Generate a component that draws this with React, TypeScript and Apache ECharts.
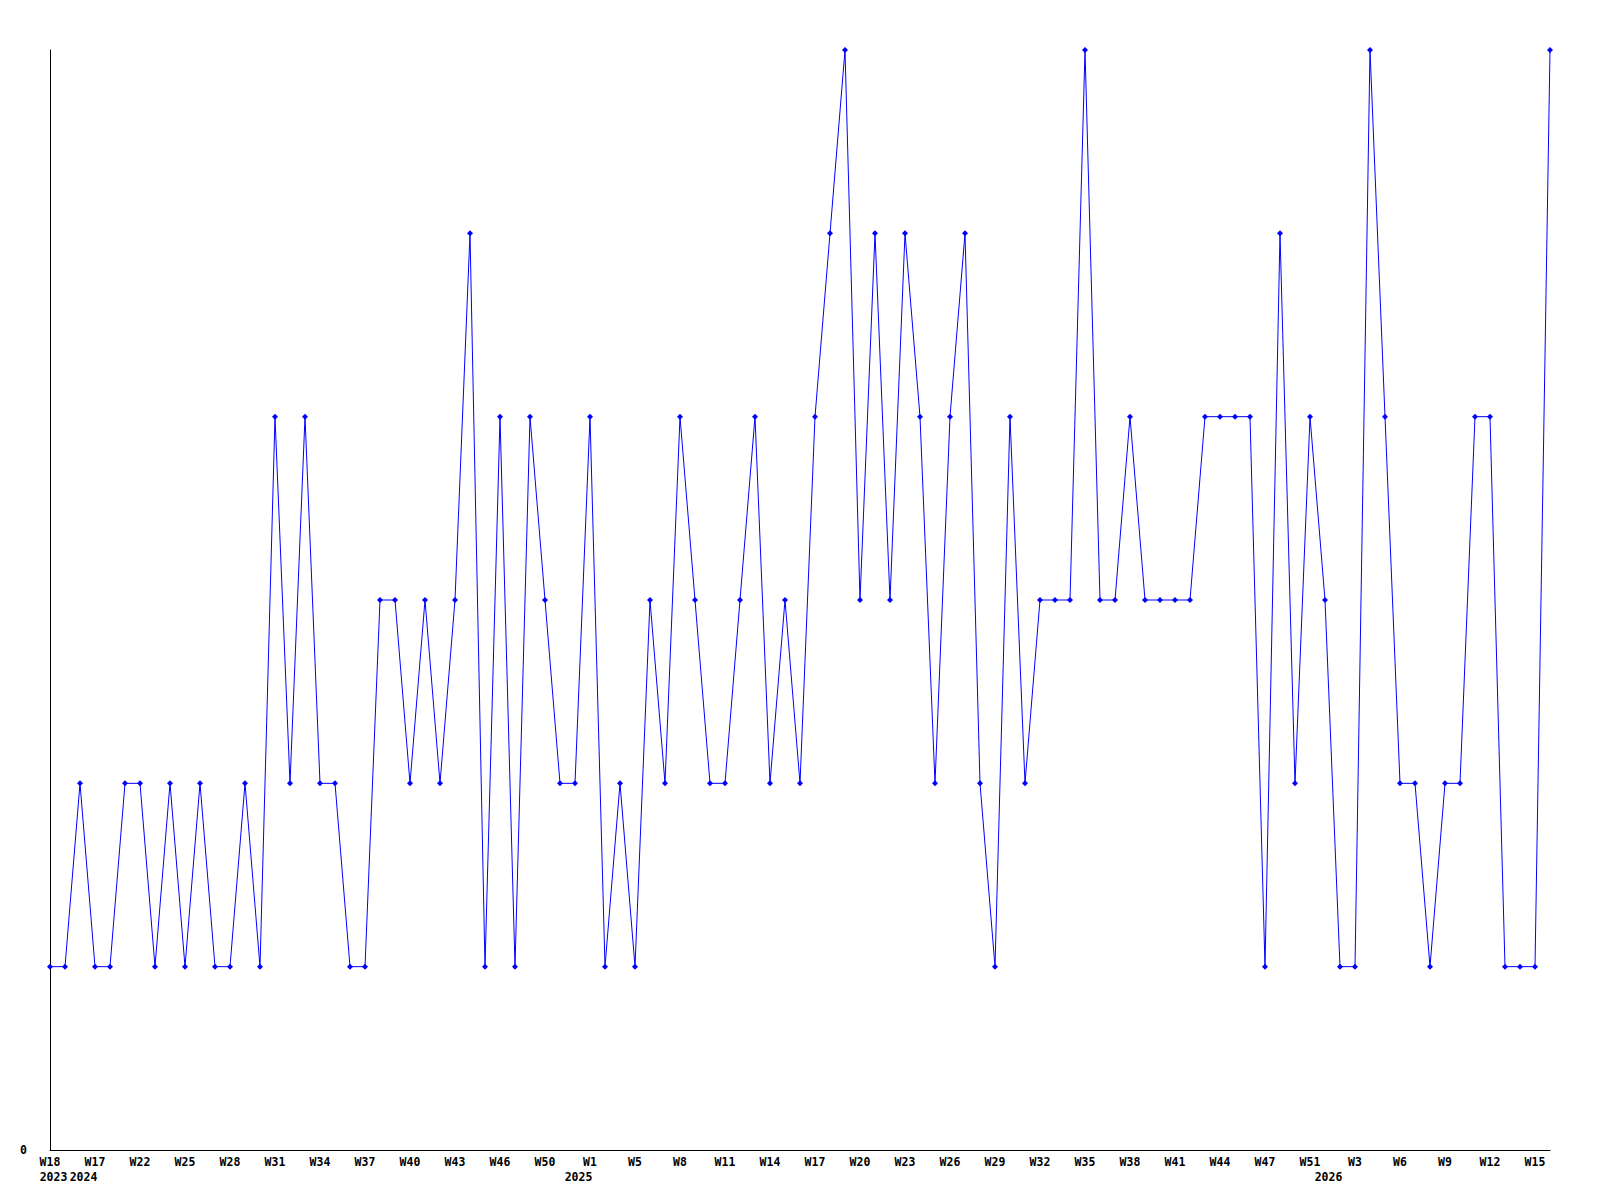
import React, { useEffect, useRef } from "react";
import * as echarts from "echarts";

const weeks = [
  "W18", "W20", "W16", "W17", "W19", "W21", "W22", "W23", "W24", "W25",
  "W26", "W27", "W28", "W29", "W30", "W31", "W32", "W33", "W34", "W35",
  "W36", "W37", "W38", "W39", "W40", "W41", "W42", "W43", "W44", "W45",
  "W46", "W47", "W49", "W50", "W51", "W52", "W1", "W2", "W3", "W5",
  "W6", "W7", "W8", "W9", "W10", "W11", "W12", "W13", "W14", "W15",
  "W16", "W17", "W18", "W19", "W20", "W21", "W22", "W23", "W24", "W25",
  "W26", "W27", "W28", "W29", "W30", "W31", "W32", "W33", "W34", "W35",
  "W36", "W37", "W38", "W39", "W40", "W41", "W42", "W43", "W44", "W45",
  "W46", "W47", "W48", "W50", "W51", "W1", "W2", "W3", "W4", "W5",
  "W6", "W7", "W8", "W9", "W10", "W11", "W12", "W13", "W14", "W15",
  "W16",
];

const values = [
  1, 1, 2, 1, 1, 2, 2, 1, 2, 1,
  2, 1, 1, 2, 1, 4, 2, 4, 2, 2,
  1, 1, 3, 3, 2, 3, 2, 3, 5, 1,
  4, 1, 4, 3, 2, 2, 4, 1, 2, 1,
  3, 2, 4, 3, 2, 2, 3, 4, 2, 3,
  2, 4, 5, 6, 3, 5, 3, 5, 4, 2,
  4, 5, 2, 1, 4, 2, 3, 3, 3, 6,
  3, 3, 4, 3, 3, 3, 3, 4, 4, 4,
  4, 1, 5, 2, 4, 3, 1, 1, 6, 4,
  2, 2, 1, 2, 2, 4, 4, 1, 1, 1,
  6,
];

const yearIndexes = [0, 2, 35, 85];
const yearNames = ["2023", "2024", "2025", "2026"];

const FONT = "DejaVu Sans Mono";

export default function App() {
  const ref = useRef<HTMLDivElement>(null);

  useEffect(() => {
    if (!ref.current) return;
    const chart = echarts.init(ref.current, null, { renderer: "svg" });
    const yearRow = weeks.map((_, i) => {
      const k = yearIndexes.indexOf(i);
      return k >= 0 ? yearNames[k] : "";
    });
    chart.setOption({
      animation: false,
      backgroundColor: "#ffffff",
      grid: { left: 50, right: 50, top: 50, bottom: 50, containLabel: false },
      xAxis: [
        {
          type: "category",
          data: weeks,
          boundaryGap: false,
          position: "bottom",
          axisLine: { show: true, lineStyle: { color: "#000000", width: 1 } },
          axisTick: { show: false },
          splitLine: { show: false },
          axisLabel: {
            interval: 2,
            margin: 6,
            color: "#000000",
            fontFamily: FONT,
            fontWeight: "bold",
            fontSize: 11.5,
          },
        },
        {
          type: "category",
          data: yearRow,
          boundaryGap: false,
          position: "bottom",
          offset: 15,
          axisLine: { show: false },
          axisTick: { show: false },
          splitLine: { show: false },
          axisLabel: {
            interval: 0,
            margin: 6,
            padding: [0, 0, 0, 7],
            color: "#000000",
            fontFamily: FONT,
            fontWeight: "bold",
            fontSize: 11.5,
          },
        },
      ],
      yAxis: {
        type: "value",
        min: 0,
        max: 6,
        interval: 1,
        axisLine: { show: true, lineStyle: { color: "#000000", width: 1 } },
        axisTick: { show: false },
        splitLine: { show: false },
        axisLabel: {
          margin: 23,
          color: "#000000",
          fontFamily: FONT,
          fontWeight: "bold",
          fontSize: 11.5,
          formatter: (v: number) => (v === 0 ? "0" : ""),
        },
      },
      series: [
        {
          type: "line",
          xAxisIndex: 0,
          data: values,
          symbol: "diamond",
          symbolSize: 6,
          showAllSymbol: true,
          lineStyle: { color: "#0000ff", width: 1 },
          itemStyle: { color: "#0000ff" },
          clip: false,
        },
      ],
    });
    return () => chart.dispose();
  }, []);

  return (
    <div
      ref={ref}
      style={{ position: "absolute", left: 0, top: 0, width: 1600, height: 1200 }}
    />
  );
}
